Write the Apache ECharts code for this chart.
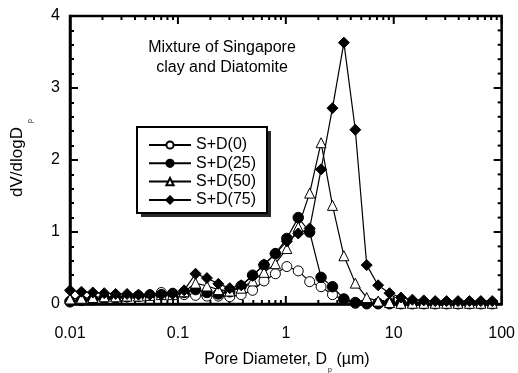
<!DOCTYPE html>
<html>
<head>
<meta charset="utf-8">
<script src="https://cdn.jsdelivr.net/npm/echarts@6/dist/echarts.min.js"></script>
<style>html,body{margin:0;padding:0;background:#fff}#c{width:518px;height:373px}</style>
</head>
<body>
<div id="c"></div>
<script>
// Pore diameters (µm)
var poreDiameter = [0.0100,0.01276,0.01627,0.02076,0.02649,0.03379,0.04311,0.05499,0.07015,0.08949,
  0.1142,0.1457,0.1858,0.2370,0.3024,0.3857,0.4921,0.6278,0.8009,1.0217,
  1.3034,1.6628,2.1212,2.706,3.452,4.404,5.618,7.167,9.143,11.66,
  14.88,18.98,24.22,30.89,39.41,50.27,64.13,81.82];
var seriesNames = ['S+D(0)','S+D(25)','S+D(50)','S+D(75)'];
var sd0  = [0.04,0.05,0.06,0.07,0.08,0.10,0.11,0.13,0.16,0.15,0.13,0.12,0.11,0.11,0.10,0.13,0.19,0.32,0.42,0.52,0.46,0.31,0.24,0.13,0.06,0.01,0,0,0,0,0,0,0,0,0,0,0,0];
var sd25 = [0.03,0.05,0.06,0.08,0.09,0.10,0.11,0.12,0.13,0.14,0.16,0.20,0.16,0.14,0.17,0.25,0.40,0.54,0.70,0.91,1.20,1.00,0.37,0.24,0.07,0.02,0.01,0.01,0.01,0.01,0.01,0.01,0.01,0.01,0.01,0.01,0.01,0.01];
var sd50 = [0.07,0.08,0.09,0.10,0.10,0.11,0.11,0.12,0.13,0.13,0.17,0.29,0.25,0.20,0.18,0.22,0.32,0.44,0.56,0.77,1.07,1.54,2.24,1.37,0.67,0.29,0.09,0.04,0.02,0.01,0.01,0.01,0.01,0.01,0.01,0.01,0.01,0.01];
var sd75 = [0.19,0.17,0.16,0.15,0.14,0.14,0.13,0.13,0.13,0.14,0.19,0.42,0.36,0.28,0.22,0.26,0.39,0.55,0.70,0.87,0.98,1.05,1.87,2.72,3.63,2.42,0.54,0.26,0.15,0.09,0.06,0.05,0.04,0.04,0.04,0.04,0.04,0.04];
// tick positions for the mirrored / minor ticks
var xMajorTicks = [0.01,0.1,1,10,100];
var xMinorTicks = [0.02,0.03,0.04,0.05,0.06,0.07,0.08,0.09,0.2,0.3,0.4,0.5,0.6,0.7,0.8,0.9,2,3,4,5,6,7,8,9,20,30,40,50,60,70,80,90];
var yMajorTicks = [0,1,2,3,4];
var yMinorTicks = [0.2,0.4,0.6,0.8,1.2,1.4,1.6,1.8,2.2,2.4,2.6,2.8,3.2,3.4,3.6,3.8];

var FONT = 'Liberation Sans, Arial, sans-serif';
function pairs(ys){ return poreDiameter.map(function(x,i){ return [x, ys[i]]; }); }

var chart = echarts.init(document.getElementById('c'), null, {renderer:'canvas'});
function mkSeries(name, ys, symbol, size, fill){
  return {
    name:name, type:'line', data:pairs(ys), symbol:symbol, symbolSize:size,
    showAllSymbol:true, clip:false,
    lineStyle:{color:'#000', width:1.2},
    itemStyle:{color:fill, borderColor:'#000', borderWidth:1},
    emphasis:{disabled:true}, animation:false
  };
}
var xTickData = xMajorTicks.map(function(v){return [v, 8];}).concat(xMinorTicks.map(function(v){return [v, 4];}));
var yTickData = yMajorTicks.map(function(v){return [1, v, 8];}).concat(yMinorTicks.map(function(v){return [1, v, 4];}));
var option = {
  animation:false,
  grid:{left:70, right:16, top:16, bottom:69, show:true, borderColor:'#000', borderWidth:2.5, backgroundColor:'transparent'},
  xAxis:{
    type:'log', logBase:10, min:0.01, max:100, position:'bottom',
    axisLine:{show:true, lineStyle:{color:'#000', width:2.5}},
    axisTick:{show:false},
    axisLabel:{color:'#000', fontSize:16, fontFamily:FONT, margin:22,
      formatter:function(v){ return String(+v.toPrecision(3)); }},
    splitLine:{show:false}
  },
  yAxis:{
    type:'value', min:0, max:4, interval:1, position:'left',
    axisLine:{show:true, lineStyle:{color:'#000', width:2.5}},
    axisTick:{show:true, inside:true, length:8, lineStyle:{color:'#000', width:2}},
    minorTick:{show:true, splitNumber:5, length:4, lineStyle:{color:'#000', width:2}},
    axisLabel:{color:'#000', fontSize:16, fontFamily:FONT, margin:10},
    splitLine:{show:false}
  },
  legend:{
    orient:'vertical', left:137, top:127,
    data:seriesNames,
    itemWidth:42, itemHeight:9, itemGap:2.3,
    padding:[10,9,5,11],
    textStyle:{color:'#000', fontSize:16, fontFamily:FONT},
    selectedMode:false, z:10
  },
  graphic:[
    {type:'rect', z:5, shape:{x:141, y:131, width:130, height:86}, style:{fill:'#2a2a2a'}},
    {type:'rect', z:6, shape:{x:137, y:127, width:130, height:86}, style:{fill:'#fff', stroke:'#000', lineWidth:2}},
    {type:'text', x:222, y:58, style:{text:'Mixture of Singapore\nclay and Diatomite', font:'16px '+FONT, fill:'#000', align:'center', verticalAlign:'middle', lineHeight:20}},
    {type:'text', x:327, y:360, style:{text:'Pore Diameter, D', font:'16px '+FONT, fill:'#000', align:'right', verticalAlign:'middle'}},
    {type:'text', x:328, y:370, style:{text:'p', font:'7px '+FONT, fill:'#000', align:'left', verticalAlign:'middle'}},
    {type:'text', x:332, y:360, style:{text:' (µm)', font:'16px '+FONT, fill:'#000', align:'left', verticalAlign:'middle'}},
    {type:'text', x:17, y:162, rotation:Math.PI/2, style:{text:'dV/dlogD', font:'17px '+FONT, fill:'#000', align:'center', verticalAlign:'middle'}},
    {type:'text', x:30, y:121, rotation:Math.PI/2, style:{text:'p', font:'7px '+FONT, fill:'#000', align:'center', verticalAlign:'middle'}}
  ],
  series:[
    {
      type:'custom', name:'xTicks', silent:true, clip:false,
      data:xTickData,
      renderItem:function(params, api){
        var v = api.value(0), len = api.value(1);
        var b = api.coord([v, 0]);
        var t = api.coord([v, 4]);
        return {type:'group', children:[
          {type:'line', shape:{x1:b[0], y1:b[1], x2:b[0], y2:b[1]-len}, style:{stroke:'#000', lineWidth:2}},
          {type:'line', shape:{x1:t[0], y1:t[1], x2:t[0], y2:t[1]+len}, style:{stroke:'#000', lineWidth:2}}
        ]};
      }
    },
    {
      type:'custom', name:'yTicks', silent:true, clip:false,
      data:yTickData,
      renderItem:function(params, api){
        var v = api.value(1), len = api.value(2);
        var r = api.coord([100, v]);
        return {type:'line', shape:{x1:r[0], y1:r[1], x2:r[0]-len, y2:r[1]}, style:{stroke:'#000', lineWidth:2}};
      }
    },
    mkSeries('S+D(0)', sd0, 'circle', 10, '#fff'),
    mkSeries('S+D(25)', sd25, 'circle', 10.5, '#000'),
    mkSeries('S+D(50)', sd50, 'triangle', 10, '#fff'),
    mkSeries('S+D(75)', sd75, 'diamond', 11, '#000')
  ]
};
chart.setOption(option);
</script>
</body>
</html>
